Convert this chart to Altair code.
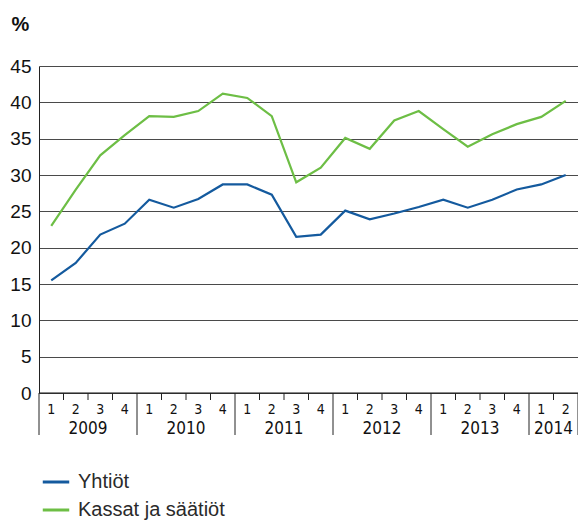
import altair as alt
import pandas as pd

# Quarterly series, 2009 Q1 – 2014 Q2 (%)
quarters = ["1", "2", "3", "4"] * 5 + ["1", "2"]
years = ["2009", "2010", "2011", "2012", "2013", "2014"]
yhtiot = [15.5, 17.9, 21.8, 23.3, 26.6, 25.5, 26.7, 28.7, 28.7, 27.3, 21.5,
          21.8, 25.1, 23.9, 24.7, 25.6, 26.6, 25.5, 26.6, 28.0, 28.7, 30.0]
kassat = [23.0, 28.0, 32.7, 35.5, 38.1, 38.0, 38.8, 41.2, 40.6, 38.1, 29.0,
          31.0, 35.1, 33.6, 37.5, 38.8, 36.3, 33.9, 35.6, 37.0, 38.0, 40.2]
series = ["Yhtiöt", "Kassat ja säätiöt"]
colors = ["#145a9e", "#6dbe45"]
y_ticks = list(range(0, 46, 5))

FONT = "Liberation Sans"
NARROW = "Liberation Sans Narrow, DejaVu Sans Condensed, Liberation Sans"

n = len(quarters)
centers = [i + 0.5 for i in range(n)]

lines_df = pd.DataFrame({
    "pos": centers * 2,
    "value": yhtiot + kassat,
    "series": [series[0]] * n + [series[1]] * n,
})

# quarter boundaries: short ticks inside a year, long separators between years
year_starts = [i for i, q in enumerate(quarters) if q == "1"]
year_ends = year_starts[1:] + [n]
minor_df = pd.DataFrame({"b": [i for i in range(1, n) if quarters[i] != "1"]})
major_df = pd.DataFrame({"b": year_starts + [n]})
qlab_df = pd.DataFrame({"pos": centers, "q": quarters})
ylab_df = pd.DataFrame({
    "pos": [(s + e) / 2 for s, e in zip(year_starts, year_ends)],
    "year": years,
})
zero_df = pd.DataFrame({"v": [0]})
unit_df = pd.DataFrame({"t": ["%"]})

W, H = 539, 327
x_scale = alt.Scale(domain=[0, n], nice=False, zero=False)
y_scale = alt.Scale(domain=[0, 45], nice=False)
x_enc = lambda f: alt.X(f, scale=x_scale, axis=None)

y_axis = alt.Axis(
    values=y_ticks, grid=True, gridColor="#4a4a4a", gridWidth=1,
    domain=True, domainColor="#222222", domainWidth=1, ticks=False,
    labelFontSize=19, labelFont=FONT, labelColor="#111111",
    labelPadding=8, labelOverlap=False, title=None,
)

lines = alt.Chart(lines_df).mark_line(strokeWidth=2.2).encode(
    x=x_enc("pos:Q"),
    y=alt.Y("value:Q", scale=y_scale, axis=y_axis),
    color=alt.Color(
        "series:N",
        scale=alt.Scale(domain=series, range=colors),
        sort=series,
        legend=alt.Legend(
            orient="none", legendX=2, legendY=401, title=None,
            symbolType="stroke", symbolSize=700, symbolStrokeWidth=3,
            labelFontSize=20, labelFont=FONT, labelColor="#2a2a2a",
            labelOffset=7, rowPadding=3, padding=0, labelLimit=400,
        ),
    ),
    detail="series:N",
)

zero_line = alt.Chart(zero_df).mark_rule(color="#111111", strokeWidth=1).encode(
    y=alt.Y("v:Q", scale=y_scale, axis=y_axis)
)

minor_ticks = alt.Chart(minor_df).mark_rule(color="#222222", strokeWidth=1).encode(
    x=x_enc("b:Q"), y=alt.value(H), y2=alt.value(H + 7)
)
major_ticks = alt.Chart(major_df).mark_rule(color="#222222", strokeWidth=1).encode(
    x=x_enc("b:Q"), y=alt.value(H), y2=alt.value(H + 42)
)
q_labels = alt.Chart(qlab_df).mark_text(
    fontSize=14, font=NARROW, color="#111111", baseline="middle"
).encode(x=x_enc("pos:Q"), y=alt.value(H + 17), text="q:N")
y_labels = alt.Chart(ylab_df).mark_text(
    fontSize=17, font=NARROW, color="#111111", baseline="middle"
).encode(x=x_enc("pos:Q"), y=alt.value(H + 36), text="year:N")

unit = alt.Chart(unit_df).mark_text(
    fontSize=20, font=FONT, fontWeight="bold", color="#111111",
    align="center", baseline="alphabetic",
).encode(x=alt.value(-18.5), y=alt.value(-35), text="t:N")

chart = alt.layer(
    lines, zero_line, minor_ticks, major_ticks, q_labels, y_labels, unit
).properties(
    width=W, height=H,
    padding={"left": 39, "top": 66, "right": 0, "bottom": 521 - 66 - H},
    autosize=alt.AutoSizeParams(type="none"),
    background="white",
).configure_view(stroke=None)

chart.save("out.html", embed_options={"renderer": "svg", "actions": False})
